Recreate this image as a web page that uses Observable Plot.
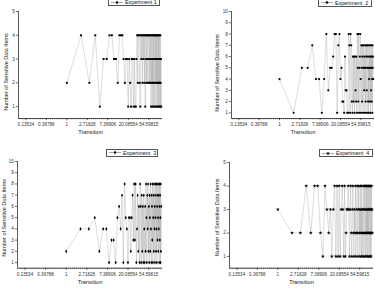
<!DOCTYPE html>
<html><head><meta charset="utf-8">
<script src="https://cdn.jsdelivr.net/npm/d3@7"></script>
<script src="https://cdn.jsdelivr.net/npm/@observablehq/plot@0.6"></script>
<style>
body{margin:0;background:#fff;}
#root{position:relative;width:375px;height:294px;overflow:hidden;font-family:"Liberation Sans",Arial,sans-serif;background:#fff;}
.panel{position:absolute;}
.legend{position:absolute;border:0.6px solid #555;background:#fff;display:flex;align-items:center;font-size:5.4px;color:#111;box-sizing:border-box;white-space:pre;}
.legend svg{margin-left:2px;margin-right:2px;}
</style></head>
<body><div id="root"></div>
<script>
// Transition numbers (x) shared by all four experiments
const transitions = d3.range(1, 101);

const exp1 = [2,4,2,4,1,3,3,4,4,3,3,2,4,4,4,3,2,3,3,1,3,2,1,3,3,1,3,1,1,3,
  4,2,4,4,2,1,4,3,4,2,4,3,4,2,4,1,3,4,2,4,3,2,4,4,3,2,4,2,3,4,
  1,4,2,3,1,4,2,4,1,3,4,2,1,4,3,2,4,1,3,4,2,4,1,3,2,4,1,4,3,2,
  1,4,2,3,1,4,2,1,3,1];
const exp2 = [4,1,5,5,7,4,4,1,4,8,3,5,5,6,8,8,1,7,8,4,5,2,2,1,6,3,3,1,1,8,
  7,1,8,7,2,1,6,2,6,1,6,3,2,6,1,8,5,2,8,1,5,6,8,4,1,7,5,2,6,7,
  1,5,7,3,6,5,1,7,2,5,6,7,3,1,5,7,6,2,5,1,7,4,6,5,2,7,1,5,6,3,
  7,5,2,6,4,1,7,5,6,4];
const exp3 = [2,4,4,5,2,4,4,1,3,3,1,5,6,4,7,1,8,5,4,1,5,5,2,5,7,3,8,3,8,1,
  4,7,2,6,1,8,6,1,7,2,6,1,7,4,1,6,2,8,5,1,7,4,8,2,6,1,7,5,2,8,
  4,1,7,6,3,8,1,5,7,2,8,4,6,1,7,5,8,2,4,8,1,6,7,3,8,5,2,7,4,8,
  1,6,8,3,7,5,1,8,2,6];
const exp4 = [3,2,2,4,2,4,4,2,1,4,3,2,3,1,3,4,1,4,1,4,1,3,4,3,1,4,1,2,3,3,
  4,3,1,3,4,2,1,3,4,2,1,3,2,4,1,2,3,4,2,1,3,4,2,3,1,4,2,3,1,4,
  2,3,1,2,4,3,1,2,4,3,2,1,4,3,2,4,1,3,2,4,1,3,2,4,3,1,2,4,3,2,
  1,4,3,2,1,3,4,2,3,2];

const seriesNames = ["Experiment 1", "Experiment  2", "Experiment  3", "Experiment  4"];
const seriesValues = [exp1, exp2, exp3, exp4];
const seriesSymbols = ["square", "circle", "diamond", "star"];
const yMaxes = [5, 10, 10, 5];

const xTickValues = [0.13534, 0.36788, 1, 2.71828, 7.38906, 20.08554, 54.59815];
const xTickLabels = ["0.13534", "0.36788", "1", "2.71828", "7.38906", "20.08554", "54.59815"];
const xTitle = "Transition";
const yTitle = "Number of Sensitive Data Items";

// layout of the four panels
const layouts = [
  {left:0,   top:0,   width:187, height:147, mL:18, mR:25, mT:11, mB:29, ydx:-12, ydy:7,
   leg:{left:108, top:-2, width:52, height:8}},
  {left:185, top:0,   width:190, height:147, mL:46, mR:1,  mT:11, mB:29, ydx:-14, ydy:8,
   leg:{left:318, top:-1, width:54, height:7.5}},
  {left:0,   top:147, width:187, height:147, mL:17, mR:25, mT:14, mB:26.3, ydx:-13, ydy:3,
   leg:{left:106, top:148.7, width:52, height:8.5}},
  {left:185, top:147, width:190, height:147, mL:44, mR:2,  mT:15, mB:26.3, ydx:-12, ydy:2,
   leg:{left:319, top:149, width:54, height:8}}
];

const xDomain = [Math.exp(-2.36), Math.exp(4.67)];
const minorTicks = d3.range(-2.3, 4.65, 0.1).map(Math.exp);
const xTickRows = xTickValues.map((v, k) => ({v, label: xTickLabels[k]}));

const root = document.getElementById("root");

seriesValues.forEach((vals, i) => {
  const L = layouts[i];
  const data = transitions.map((t, k) => ({t, v: vals[k]}));
  const yTicks = d3.range(1, yMaxes[i] + 1);
  const chart = Plot.plot({
    width: L.width, height: L.height,
    marginLeft: L.mL, marginRight: L.mR, marginTop: L.mT, marginBottom: L.mB,
    x: {type: "log", domain: xDomain, label: null},
    y: {domain: [0.5, yMaxes[i]], label: null},
    style: {fontFamily: "'Liberation Sans', Arial, sans-serif", fontSize: "4.6px", background: "transparent", color: "#111", overflow: "visible"},
    marks: [
      Plot.axisX({ticks: minorTicks, tickSize: 1.4, tickFormat: () => "", stroke: "#333", strokeWidth: 0.5}),
      Plot.axisX({ticks: xTickValues, tickSize: 2.2, tickFormat: () => "", stroke: "#111", strokeWidth: 0.6}),
      Plot.text(xTickRows, {x: "v", text: "label", frameAnchor: "bottom", lineAnchor: "middle", textAnchor: "middle", dy: 6, fontSize: 4.6, fill: "#333"}),
      Plot.axisY({ticks: yTicks, tickSize: 2.2, tickPadding: 1.5, tickFormat: "d", stroke: "#111", strokeWidth: 0.6, fill: "#333"}),
      Plot.ruleY([0.5], {stroke: "#111", strokeWidth: 0.7}),
      Plot.ruleX([xDomain[0]], {stroke: "#111", strokeWidth: 0.7}),
      Plot.line(data, {x: "t", y: "v", stroke: "#aaaaaa", strokeWidth: 0.4}),
      Plot.dot(data, {x: "t", y: "v", symbol: () => seriesSymbols[i], r: seriesSymbols[i] === "star" ? 1.2 : 1.1, fill: "#000", stroke: "none"}),
      Plot.text([yTitle], {frameAnchor: "left", textAnchor: "middle", lineAnchor: "middle", rotate: -90, dx: L.ydx, dy: L.ydy, fontSize: 5.5, fill: "#222"}),
      Plot.text([xTitle], {frameAnchor: "bottom", textAnchor: "middle", lineAnchor: "middle", dy: 14, fontSize: 5.7, fill: "#222"})
    ]
  });
  chart.classList.add("panel");
  chart.style.left = L.left + "px";
  chart.style.top = L.top + "px";
  root.appendChild(chart);

  // legend
  const lg = document.createElement("div");
  lg.className = "legend";
  Object.assign(lg.style, {left: L.leg.left + "px", top: L.leg.top + "px", width: L.leg.width + "px", height: L.leg.height + "px"});
  const symType = {square: d3.symbolSquare, circle: d3.symbolCircle, diamond: d3.symbolDiamond, star: d3.symbolStar}[seriesSymbols[i]];
  const p = d3.symbol(symType, 5)();
  lg.innerHTML = `<svg width="12" height="5" viewBox="0 0 12 5"><line x1="0" y1="2.5" x2="12" y2="2.5" stroke="#555" stroke-width="0.5"/><path transform="translate(6,2.5)" d="${p}" fill="#000"/></svg><span>${seriesNames[i]}</span>`;
  root.appendChild(lg);
});
</script>
</body></html>
